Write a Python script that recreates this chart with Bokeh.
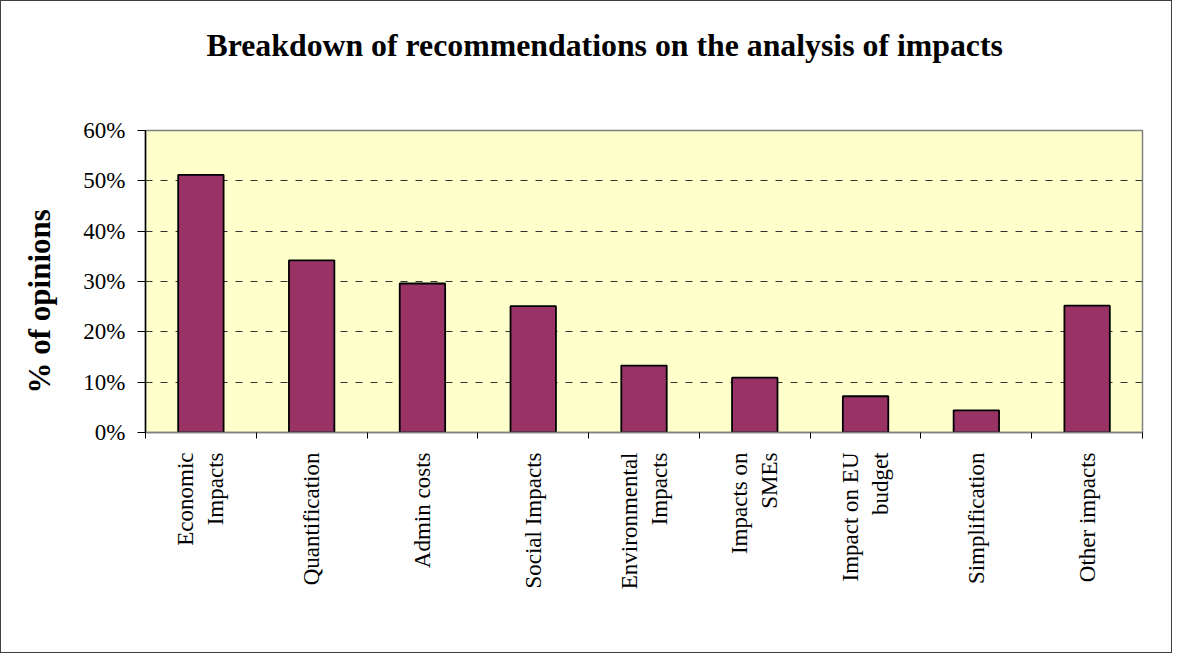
import math
from bokeh.plotting import figure
from bokeh.models import Range1d, FixedTicker, NumeralTickFormatter, Title, LinearAxis, Grid
from bokeh.embed import file_html
from bokeh.resources import INLINE

categories = ["Economic\nImpacts", "Quantification", "Admin costs", "Social Impacts",
              "Environmental\nImpacts", "Impacts on\nSMEs", "Impact on EU\nbudget",
              "Simplification", "Other impacts"]
values = [0.512, 0.342, 0.296, 0.251, 0.133, 0.109, 0.072, 0.044, 0.252]
y_ticks = [0.0, 0.1, 0.2, 0.3, 0.4, 0.5, 0.6]
title_text = "Breakdown of recommendations on the analysis of impacts"
y_label = "% of opinions"

FONT = "Liberation Serif"
n = len(categories)
centers = [i + 0.5 for i in range(n)]
bounds = list(range(n + 1))

p = figure(width=1172, height=653, output_backend="svg", toolbar_location=None,
           x_range=Range1d(0, n), y_range=Range1d(0, 0.6),
           min_border_left=144, min_border_right=31, min_border_top=129,
           min_border_bottom=222, x_axis_location=None, y_axis_location=None,
           styles={"border": "1px solid #404040"})
p.grid.visible = False

p.background_fill_color = "#FFFFCC"
p.border_fill_color = "white"
p.outline_line_color = "#808080"
p.outline_line_width = 1.5

p.vbar(x=centers, top=values, bottom=0, width=0.41, fill_color="#993366",
       line_color="black", line_width=1.8)

# y axis
yaxis = LinearAxis(ticker=FixedTicker(ticks=y_ticks),
                   formatter=NumeralTickFormatter(format="0%"))
yaxis.axis_line_color = "black"
yaxis.axis_line_width = 1.5
yaxis.major_tick_line_color = "black"
yaxis.major_tick_out = 8
yaxis.major_tick_in = 0
yaxis.minor_tick_line_color = None
yaxis.major_label_standoff = 12
yaxis.major_label_text_font = FONT
yaxis.major_label_text_font_size = "23px"
yaxis.major_label_text_color = "black"
p.add_layout(yaxis, "left")

# x axis: labels at category centres, ticks at category boundaries
xaxis = LinearAxis(ticker=FixedTicker(ticks=centers, minor_ticks=bounds))
xaxis.major_label_overrides = {c: lab for c, lab in zip(centers, categories)}
xaxis.axis_line_color = "#808080"
xaxis.axis_line_width = 1.5
xaxis.major_tick_line_color = None
xaxis.major_tick_out = 0
xaxis.major_tick_in = 0
xaxis.minor_tick_line_color = "black"
xaxis.minor_tick_out = 6
xaxis.minor_tick_in = 0
xaxis.major_label_orientation = math.pi / 2
xaxis.major_label_standoff = 14
xaxis.major_label_text_font = FONT
xaxis.major_label_text_font_size = "23px"
xaxis.major_label_text_color = "black"
p.add_layout(xaxis, "below")

grid = Grid(dimension=1, ticker=FixedTicker(ticks=y_ticks[1:-1]))
grid.grid_line_color = "#333333"
grid.grid_line_width = 1.2
grid.grid_line_dash = "7 8"
p.add_layout(grid)

# spacer between frame and chart title, then the title itself
p.add_layout(Title(text=" ", standoff=65, text_font_size="1px"), "above")
p.add_layout(Title(text=title_text, align="left", offset=61, standoff=0,
                   text_font=FONT, text_font_size="31.8px", text_font_style="bold",
                   text_color="black"), "above")

# spacer between y axis and its label, then the label
p.add_layout(Title(text=" ", standoff=21, text_font_size="1px"), "left")
p.add_layout(Title(text=y_label, align="left", offset=39, standoff=0,
                   text_font=FONT, text_font_size="31px", text_font_style="bold",
                   text_color="black"), "left")

open("out.html", "w").write(file_html(p, INLINE))
